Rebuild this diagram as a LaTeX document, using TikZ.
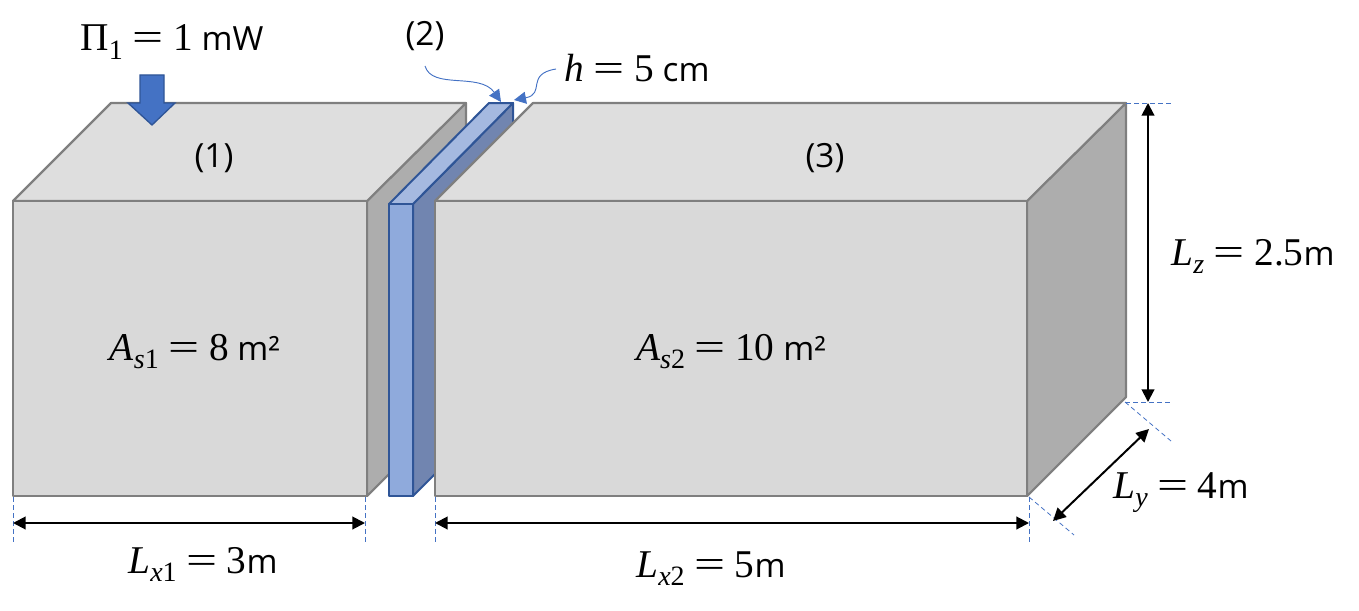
\documentclass[tikz,border=0pt]{standalone}
\usepackage{fontspec}
\setmainfont{Open Sans}
\newfontfamily\mf{Liberation Serif}
\usetikzlibrary{arrows.meta}
\definecolor{topgray}{HTML}{DEDEDE}
\definecolor{frontgray}{HTML}{D9D9D9}
\definecolor{sidegray}{HTML}{ADADAD}
\definecolor{edgegray}{HTML}{7F7F7F}
\definecolor{bfront}{HTML}{8FAADC}
\definecolor{btop}{HTML}{A5B9E0}
\definecolor{bside}{HTML}{7185B0}
\definecolor{bedge}{HTML}{2F5597}
\definecolor{acc}{HTML}{4472C4}
\newcommand\MI[1]{{\mf\fontsize{29.5}{30}\selectfont\itshape #1}}
\newcommand\MR[1]{{\mf\fontsize{29.5}{30}\selectfont #1}}
\newcommand\SBI[1]{\raisebox{-6pt}{\mf\fontsize{21}{22}\selectfont\itshape #1}}
\newcommand\SBR[1]{\raisebox{-6pt}{\mf\fontsize{21}{22}\selectfont #1}}
\newcommand\EQ[1]{\hspace{7.2pt}\scalebox{1.4}[1]{\MR{=}}\hspace{7.2pt}\MR{#1}}
\tikzset{
  x=0.75pt,y=-0.75pt,
  lab/.style={inner sep=0pt,anchor=base,font=\fontsize{25}{28}\selectfont},
  boxface/.style={draw=edgegray,line width=1.6pt,line join=round},
  blueface/.style={draw=bedge,line width=1.5pt,line join=round},
  dim/.style={black,line width=1.5pt,{Triangle[length=9.5pt,width=9.5pt]}-{Triangle[length=9.5pt,width=9.5pt]}},
  guide/.style={acc,line width=0.6pt,dash pattern=on 3.5pt off 2.5pt},
  callout/.style={acc,line width=0.7pt,-{Triangle[length=9pt,width=9pt]}}
}
\begin{document}
\begin{tikzpicture}
\useasboundingbox (0,0) rectangle (1359,610);
% box 1
\coordinate (a1) at (13,201); \coordinate (a2) at (367,201); \coordinate (a3) at (367,496); \coordinate (a4) at (13,496);
\coordinate (a5) at (111,103); \coordinate (a6) at (466,103); \coordinate (a7) at (466,397);
\path[boxface,fill=sidegray] (a2) -- (a6) -- (a7) -- (a3) -- cycle;
\path[boxface,fill=topgray] (a1) -- (a5) -- (a6) -- (a2) -- cycle;
\path[boxface,fill=frontgray] (a1) -- (a2) -- (a3) -- (a4) -- cycle;
% plate 2
\coordinate (b1) at (389,204); \coordinate (b2) at (413,204); \coordinate (b3) at (413,496); \coordinate (b4) at (389,496);
\coordinate (b5) at (489,103); \coordinate (b6) at (513,103); \coordinate (b7) at (513,396);
\path[blueface,fill=bside] (b2) -- (b6) -- (b7) -- (b3) -- cycle;
\path[blueface,fill=btop] (b1) -- (b5) -- (b6) -- (b2) -- cycle;
\path[blueface,fill=bfront] (b1) -- (b2) -- (b3) -- (b4) -- cycle;
% box 3
\coordinate (c1) at (435,201); \coordinate (c2) at (1027,201); \coordinate (c3) at (1027,496); \coordinate (c4) at (435,496);
\coordinate (c5) at (533,103); \coordinate (c6) at (1126,103); \coordinate (c7) at (1126,397);
\path[boxface,fill=sidegray] (c2) -- (c6) -- (c7) -- (c3) -- cycle;
\path[boxface,fill=topgray] (c1) -- (c5) -- (c6) -- (c2) -- cycle;
\path[boxface,fill=frontgray] (c1) -- (c2) -- (c3) -- (c4) -- cycle;
% power arrow
\path[draw=bedge,line width=1pt,line join=miter,fill=acc] (140,75) -- (164,75) -- (164,103) -- (175,103) -- (152,125) -- (128,103) -- (140,103) -- cycle;
% guides
\coordinate (g1a) at (13,497); \coordinate (g1b) at (13,544);
\coordinate (g2a) at (365,497); \coordinate (g2b) at (365,544);
\coordinate (g3a) at (435,497); \coordinate (g3b) at (435,544);
\coordinate (g4a) at (1029,497); \coordinate (g4b) at (1029,544);
\coordinate (g5a) at (1126,103); \coordinate (g5b) at (1172,103);
\coordinate (g6a) at (1125,402); \coordinate (g6b) at (1172,402);
\coordinate (g7b) at (1171,441);
\coordinate (g8b) at (1074,535);
\draw[guide] (g1a) -- (g1b);
\draw[guide] (g2a) -- (g2b);
\draw[guide] (g3a) -- (g3b);
\draw[guide] (g4a) -- (g4b);
\draw[guide] (g5a) -- (g5b);
\draw[guide] (g6a) -- (g6b);
\draw[guide] (g6a) -- (g7b);
\draw[guide] (g4a) -- (g8b);
% dimensions
\coordinate (d1a) at (13,523); \coordinate (d1b) at (365,523);
\coordinate (d2a) at (435,523); \coordinate (d2b) at (1029,523);
\coordinate (d3a) at (1148,103); \coordinate (d3b) at (1148,402);
\coordinate (d4a) at (1149,429); \coordinate (d4b) at (1053,521);
\draw[dim] (d1a) -- (d1b);
\draw[dim] (d2a) -- (d2b);
\draw[dim] (d3a) -- (d3b);
\draw[dim] (d4a) -- (d4b);
% labels
\node[lab] (power) at (172,51) {\MR{Π}\SBR{1}\EQ{1} mW};
\node[lab] (n2) at (425,46) {(2)};
\node[lab] (hh) at (637,82) {\MI{h}\EQ{5} cm};
\node[lab] (n1) at (214,167) {(1)};
\node[lab] (n3) at (825,167) {(3)};
\node[lab] (as1) at (195,360) {\MI{A}\SBI{s}\SBR{1}\EQ{8} m²};
\node[lab] (as2) at (731,360) {\MI{A}\SBI{s}\SBR{2}\EQ{10} m²};
\node[lab] (lz) at (1253,265) {\MI{L}\SBI{z}\EQ{2.5}m};
\node[lab] (ly) at (1181,498) {\MI{L}\SBI{y}\EQ{4}m};
\node[lab] (lx1) at (203,573) {\MI{L}\SBI{x}\SBR{1}\EQ{3}m};
\node[lab] (lx2) at (711,577) {\MI{L}\SBI{x}\SBR{2}\EQ{5}m};
% callouts
\coordinate (k1) at (425,66); \coordinate (k2) at (501,102);
\coordinate (k3) at (556,69); \coordinate (k4) at (514,100);
\draw[callout] (k1) .. controls (432,90) and (480,72) .. (k2);
\draw[callout] (k3) .. controls (525,74) and (546,94) .. (k4);
\end{tikzpicture}
\end{document}
